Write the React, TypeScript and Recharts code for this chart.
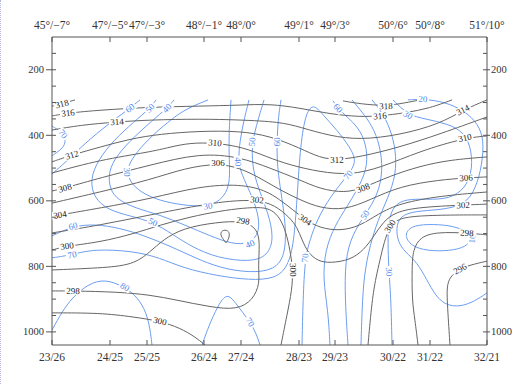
import React from 'react';
import { ComposedChart, Line, XAxis, YAxis } from 'recharts';

// distance along the section (0 = west end) and its tick labels
const xTicks = [0, 58, 95, 152, 189, 247, 283, 341, 378, 435];
const topLabels = ['45°/−7°', '47°/−5°', '47°/−3°', '48°/−1°', '48°/0°', '49°/1°', '49°/3°', '50°/6°', '50°/8°', '51°/10°'];
const bottomLabels = ['23/26', '24/25', '25/25', '26/24', '27/24', '28/23', '29/23', '30/22', '31/22', '32/21'];
const pTicks = [150, 200, 250, 300, 350, 400, 450, 500, 550, 600, 650, 700, 750, 800, 850, 900, 950, 1000];
const pLabels = [200, 400, 600, 800, 1000];

// potential temperature isolines (K): [distance, hPa]
const th318a = [[0, 311], [10, 304], [23, 292]];
const th316 = [[0, 341], [16, 332], [48, 323], [98, 314], [148, 311], [188, 308], [218, 304], [248, 317], [278, 335], [308, 344], [328, 341], [353, 332], [378, 317], [400, 292]];
const th318b = [[291, 295], [308, 304], [334, 311], [353, 301], [368, 292]];
const th314 = [[0, 384], [28, 369], [65, 359], [98, 353], [148, 350], [188, 353], [228, 359], [248, 375], [278, 402], [308, 414], [348, 399], [388, 365], [411, 323], [435, 292]];
const th312 = [[0, 481], [20, 460], [48, 436], [78, 411], [108, 396], [148, 387], [188, 387], [218, 402], [248, 439], [268, 469], [285, 475], [308, 466], [348, 436], [388, 396], [435, 344]];
const th310 = [[0, 515], [48, 475], [98, 451], [118, 436], [138, 423], [163, 423], [191, 436], [215, 466], [238, 491], [268, 512], [298, 521], [328, 500], [368, 448], [413, 408], [435, 402]];
const th308 = [[0, 570], [13, 561], [48, 530], [98, 491], [148, 454], [188, 466], [218, 500], [248, 536], [268, 564], [293, 576], [311, 561], [338, 524], [368, 494], [398, 475], [435, 466]];
const th306 = [[0, 607], [48, 573], [98, 536], [133, 500], [166, 485], [188, 500], [208, 530], [228, 567], [248, 597], [268, 622], [293, 628], [318, 597], [348, 555], [388, 536], [414, 530], [435, 527]];
const th304 = [[0, 649], [8, 643], [48, 622], [98, 594], [148, 555], [188, 549], [213, 567], [228, 597], [240, 625], [253, 658], [268, 683], [288, 692], [308, 677], [326, 640], [348, 607], [388, 585], [435, 573]];
const th302 = [[0, 698], [48, 674], [98, 643], [148, 613], [178, 600], [205, 597], [223, 613], [238, 652], [245, 680], [250, 719], [256, 759], [266, 784], [278, 790], [298, 781], [312, 750], [322, 707], [331, 665], [343, 634], [368, 619], [411, 613], [435, 610]];
const th300a = [[0, 750], [15, 738], [48, 726], [81, 701], [108, 674], [138, 649], [168, 631], [191, 622], [210, 619], [220, 628], [228, 652], [234, 695], [238, 750], [241, 811], [240, 872], [235, 948], [229, 1040]];
const th300b = [[0, 942], [48, 942], [81, 954], [108, 967], [128, 988], [143, 1015], [153, 1040]];
const th300c = [[316, 1040], [320, 903], [324, 832], [328, 781], [332, 726], [338, 677], [346, 655], [363, 646], [398, 643], [435, 643]];
const th298a = [[0, 811], [48, 805], [81, 796], [98, 756], [111, 719], [131, 683], [165, 665], [191, 661], [205, 683], [208, 729], [206, 802], [208, 851], [201, 903], [185, 933], [158, 924], [125, 903], [98, 887], [65, 878], [21, 875], [0, 875]];
const th298b = [[366, 1040], [363, 964], [360, 903], [360, 802], [361, 750], [368, 710], [385, 695], [415, 698], [435, 704]];
const th296a = [[398, 1040], [395, 903], [395, 851], [400, 826], [408, 808], [418, 796], [435, 784]];
const th296b = [[168, 704], [170, 689], [176, 689], [178, 704], [176, 719], [174, 732], [172, 719]];

// relative humidity isolines (%)
const rh70a = [[0, 372], [5, 381], [11, 396], [14, 417], [11, 439], [4, 454], [0, 463]];
const rh60a = [[88, 292], [78, 317], [62, 353], [44, 396], [28, 439], [14, 481], [0, 518]];
const rh50 = [[104, 292], [98, 317], [82, 359], [62, 414], [46, 475], [38, 536], [42, 591], [56, 628], [78, 646], [101, 665], [120, 701], [140, 741], [165, 774], [198, 787], [216, 768], [222, 713], [216, 634], [206, 561], [200, 491], [200, 420], [206, 353], [212, 292]];
const rh40 = [[122, 292], [115, 317], [100, 356], [82, 405], [65, 460], [56, 512], [58, 567], [66, 597], [83, 622], [108, 643], [133, 674], [158, 707], [180, 732], [198, 732], [208, 695], [206, 634], [198, 573], [190, 521], [186, 481], [188, 414], [192, 353], [197, 292]];
const rh30 = [[156, 292], [143, 308], [131, 326], [120, 350], [104, 390], [88, 439], [78, 481], [75, 512], [79, 549], [93, 582], [113, 604], [138, 616], [156, 616], [168, 600], [176, 567], [178, 521], [177, 460], [177, 384], [179, 292]];
const rh60b = [[0, 707], [21, 677], [43, 671], [68, 683], [93, 707], [118, 738], [143, 774], [168, 805], [198, 820], [223, 811], [233, 765], [234, 689], [231, 613], [227, 536], [225, 475], [225, 420], [226, 353], [229, 292]];
const rh70 = [[0, 774], [20, 765], [41, 747], [81, 753], [108, 774], [131, 805], [165, 829], [198, 842], [223, 838], [236, 802], [242, 726], [245, 597], [248, 445], [253, 338], [261, 301], [271, 338], [285, 384], [298, 436], [305, 481], [296, 521], [278, 588], [265, 658], [258, 719], [253, 774], [251, 903], [250, 1040]];
const rh80 = [[0, 994], [10, 939], [20, 896], [36, 854], [53, 838], [73, 863], [86, 896], [94, 939], [98, 988], [100, 1040]];
const rh70b = [[150, 1040], [156, 988], [166, 918], [175, 881], [183, 909], [191, 942], [198, 970], [204, 1003], [208, 1040]];
const rh60R = [[281, 295], [286, 317], [295, 344], [306, 375], [314, 423], [316, 491], [308, 552], [296, 613], [283, 674], [273, 750], [271, 842], [276, 933], [278, 1040]];
const rh50R = [[300, 292], [310, 329], [320, 369], [328, 430], [331, 506], [326, 582], [313, 643], [300, 704], [293, 781], [293, 903], [296, 1040]];
const rh40R = [[320, 292], [330, 329], [338, 378], [344, 445], [344, 521], [336, 591], [326, 658], [318, 735], [312, 826], [310, 933], [309, 1040]];
const rh30R = [[341, 292], [356, 338], [373, 350], [396, 365], [412, 390], [420, 445], [420, 521], [410, 573], [393, 597], [368, 594], [350, 597], [340, 622], [336, 674], [336, 750], [337, 817], [339, 903], [340, 1040]];
const rh20 = [[356, 292], [371, 289], [393, 298], [413, 326], [426, 365], [432, 414], [430, 491], [424, 561], [413, 613], [388, 628], [363, 631], [348, 646], [344, 683], [346, 726], [353, 756], [365, 787], [375, 842], [383, 887], [393, 918], [408, 924], [423, 906], [435, 881]];
const rh10 = [[352, 704], [359, 677], [375, 671], [398, 674], [415, 692], [420, 716], [414, 741], [398, 753], [375, 753], [359, 738]];

const AXIS = '#555';
const GRAY = '#666';
const BLUE = '#6c9ef0';
const FONT = 'Liberation Serif';

type Contour = { level: number; pts: number[][]; labels: number[]; closed?: boolean };

const isentropes: Contour[] = [
  { level: 318, pts: th318a, labels: [1] },
  { level: 316, pts: th316, labels: [1, 10] },
  { level: 318, pts: th318b, labels: [2] },
  { level: 314, pts: th314, labels: [2, 12] },
  { level: 312, pts: th312, labels: [1, 10] },
  { level: 310, pts: th310, labels: [5, 13] },
  { level: 308, pts: th308, labels: [1, 10] },
  { level: 306, pts: th306, labels: [4, 14] },
  { level: 304, pts: th304, labels: [1, 9] },
  { level: 302, pts: th302, labels: [5, 19] },
  { level: 300, pts: th300a, labels: [1, 13] },
  { level: 300, pts: th300b, labels: [3] },
  { level: 300, pts: th300c, labels: [5] },
  { level: 298, pts: th298a, labels: [7, 18] },
  { level: 298, pts: th298b, labels: [7] },
  { level: 296, pts: th296a, labels: [4] },
  { level: 296, pts: th296b, labels: [], closed: true },
];

const humidity: Contour[] = [
  { level: 70, pts: rh70a, labels: [2] },
  { level: 60, pts: rh60a, labels: [1] },
  { level: 50, pts: rh50, labels: [1, 9, 19] },
  { level: 40, pts: rh40, labels: [1, 13, 18] },
  { level: 30, pts: rh30, labels: [7, 12] },
  { level: 60, pts: rh60b, labels: [1, 15] },
  { level: 70, pts: rh70, labels: [1, 19, 23] },
  { level: 80, pts: rh80, labels: [5] },
  { level: 70, pts: rh70b, labels: [6] },
  { level: 60, pts: rh60R, labels: [1] },
  { level: 50, pts: rh50R, labels: [6] },
  { level: 40, pts: rh40R, labels: [] },
  { level: 30, pts: rh30R, labels: [1, 14] },
  { level: 20, pts: rh20, labels: [1] },
  { level: 10, pts: rh10, labels: [5], closed: true },
];

const toRows = (pts: number[][]) => pts.map(([x, p]) => ({ x, p }));

// contour label drawn on a white patch, turned along the line
const makeLabel = (text: string, idxs: number[], color: string) => (props: any) => {
  const { cx, cy, index, points } = props;
  if (!idxs.includes(index) || cx == null || cy == null) return <g key={`d${index}`} />;
  let ang = 0;
  if (points && points.length > 1) {
    const a = points[Math.max(0, index - 1)];
    const b = points[Math.min(points.length - 1, index + 1)];
    ang = (Math.atan2(b.y - a.y, b.x - a.x) * 180) / Math.PI;
    if (ang > 90) ang -= 180;
    if (ang < -90) ang += 180;
  }
  const w = text.length * 4.5 + 3;
  return (
    <g key={`d${index}`} transform={`translate(${cx},${cy}) rotate(${ang})`}>
      <rect x={-w / 2} y={-4} width={w} height={8} fill="#fff" />
      <text textAnchor="middle" dominantBaseline="central" fontSize={9} fontFamily={FONT} fill={color}>
        {text}
      </text>
    </g>
  );
};

const BottomTick = ({ x, y, payload }: any) => (
  <g>
    <line x1={x} x2={x} y1={y} y2={y - 5} stroke={AXIS} />
    <text x={x} y={y + 12} textAnchor="middle" dominantBaseline="central" fontSize={11.5} fontFamily={FONT} fill="#333">
      {bottomLabels[xTicks.indexOf(payload.value)]}
    </text>
  </g>
);

const TopTick = ({ x, y, payload }: any) => (
  <g>
    <line x1={x} x2={x} y1={y} y2={y + 5} stroke={AXIS} />
    <text x={x} y={y - 12} textAnchor="middle" dominantBaseline="central" fontSize={11.5} fontFamily={FONT} fill="#333">
      {topLabels[xTicks.indexOf(payload.value)]}
    </text>
  </g>
);

const LeftTick = ({ x, y, payload }: any) => {
  const major = pLabels.includes(payload.value);
  return (
    <g>
      <line x1={major ? x - 6 : x} x2={x + 4} y1={y} y2={y} stroke={AXIS} />
      {major && (
        <text x={x - 8} y={y} textAnchor="end" dominantBaseline="central" fontSize={10.5} fontFamily={FONT} fill="#333">
          {payload.value}
        </text>
      )}
    </g>
  );
};

const RightTick = ({ x, y, payload }: any) => {
  const major = pLabels.includes(payload.value);
  return (
    <g>
      <line x1={x - 4} x2={major ? x + 3 : x} y1={y} y2={y} stroke={AXIS} />
      {major && (
        <text x={x + 4} y={y} textAnchor="start" dominantBaseline="central" fontSize={10.5} fontFamily={FONT} fill="#333">
          {payload.value}
        </text>
      )}
    </g>
  );
};

export default function App() {
  return (
    <div style={{ position: 'absolute', left: 0, top: 0, width: 512, height: 384, background: '#fff' }}>
      <div style={{ position: 'absolute', left: 0, top: 0, height: 384, borderLeft: '1px dotted #b4b4e4' }} />
      <ComposedChart width={512} height={384} margin={{ top: 12, right: 0, bottom: 14, left: 0 }}>
        <XAxis xAxisId="b" dataKey="x" type="number" domain={[0, 435]} ticks={xTicks} orientation="bottom" height={25}
          tickSize={0} tickMargin={0} tickLine={false} interval={0} tick={(p: any) => <BottomTick {...p} />}
          axisLine={{ stroke: AXIS }} allowDataOverflow />
        <XAxis xAxisId="t" dataKey="x" type="number" domain={[0, 435]} ticks={xTicks} orientation="top" height={25}
          tickSize={0} tickMargin={0} tickLine={false} interval={0} tick={(p: any) => <TopTick {...p} />}
          axisLine={{ stroke: AXIS }} allowDataOverflow />
        <YAxis yAxisId="l" type="number" domain={[100, 1040]} reversed ticks={pTicks} width={52}
          tickSize={0} tickMargin={0} tickLine={false} interval={0} tick={(p: any) => <LeftTick {...p} />}
          axisLine={{ stroke: AXIS }} allowDataOverflow />
        <YAxis yAxisId="r" orientation="right" type="number" domain={[100, 1040]} reversed ticks={pTicks} width={25}
          tickSize={0} tickMargin={0} tickLine={false} interval={0} tick={(p: any) => <RightTick {...p} />}
          axisLine={{ stroke: AXIS }} allowDataOverflow />
        {humidity.map((c, i) => (
          <Line key={`rh${i}`} xAxisId="b" yAxisId="l" data={toRows(c.pts)} dataKey="p"
            type={c.closed ? 'basisClosed' : 'basis'} stroke={BLUE} strokeWidth={1}
            dot={false} activeDot={false} isAnimationActive={false} />
        ))}
        {isentropes.map((c, i) => (
          <Line key={`th${i}`} xAxisId="b" yAxisId="l" data={toRows(c.pts)} dataKey="p"
            type={c.closed ? 'basisClosed' : 'basis'} stroke={GRAY} strokeWidth={1}
            dot={false} activeDot={false} isAnimationActive={false} />
        ))}
        {humidity.map((c, i) => (
          <Line key={`rhl${i}`} xAxisId="t" yAxisId="r" data={toRows(c.pts)} dataKey="p" type="linear"
            stroke="none" dot={makeLabel(String(c.level), c.labels, '#4f86ea')} activeDot={false}
            isAnimationActive={false} />
        ))}
        {isentropes.map((c, i) => (
          <Line key={`thl${i}`} xAxisId="t" yAxisId="r" data={toRows(c.pts)} dataKey="p" type="linear"
            stroke="none" dot={makeLabel(String(c.level), c.labels, '#222')} activeDot={false}
            isAnimationActive={false} />
        ))}
      </ComposedChart>
    </div>
  );
}
